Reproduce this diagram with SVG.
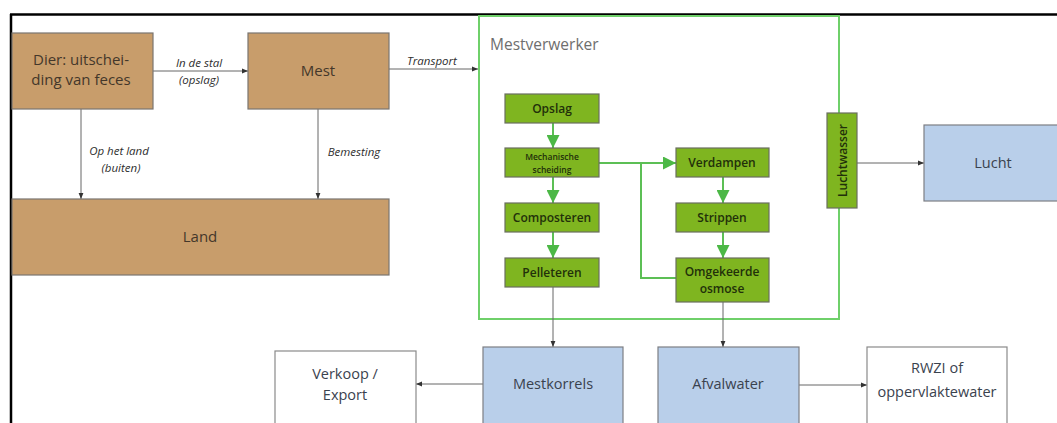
<svg xmlns="http://www.w3.org/2000/svg" width="1057" height="423" viewBox="0 0 1057 423">
<defs>
<style>
.tan{fill:#c89d6b;stroke:#7a7570;stroke-width:1.2}
.grn{fill:#7fb520;stroke:#6a6f60;stroke-width:1.2}
.blu{fill:#b9cfea;stroke:#7d7f84;stroke-width:1.2}
.wht{fill:#ffffff;stroke:#8a8a8a;stroke-width:1.2}
.t{font-family:"Open Sans","Noto Sans",sans-serif;text-anchor:middle}
.big{font-size:15px;fill:#44372a}
.lbl{font-size:11.5px;font-style:italic;fill:#2e2e2e}
.gt{font-size:12px;font-weight:600;fill:#22300a}
.bt{font-size:14.5px;fill:#3a424e}
.con{stroke:#666;stroke-width:1;fill:none}
.gcon{stroke:#5cbf55;stroke-width:2;fill:none}
</style>
<marker id="ah" viewBox="0 0 10 10" refX="10" refY="5" markerWidth="6" markerHeight="6" markerUnits="userSpaceOnUse" orient="auto">
<path d="M0,1 L10,5 L0,9 Z" fill="#333"/>
</marker>
<marker id="gah" viewBox="0 0 10 10" refX="10" refY="5" markerWidth="13" markerHeight="13" markerUnits="userSpaceOnUse" orient="auto">
<path d="M0,0 L10,5 L0,10 Z" fill="#4cb846"/>
</marker>
</defs>
<rect x="0" y="0" width="1057" height="423" fill="#ffffff"/>
<!-- frame -->
<line x1="10" y1="14.5" x2="1057" y2="14.5" stroke="#000" stroke-width="2.5"/>
<line x1="11" y1="14" x2="11" y2="423" stroke="#000" stroke-width="2.5"/>

<g id="mestverwerker">
<rect x="479" y="16" width="360" height="303" fill="none" stroke="#6fd06a" stroke-width="2"/>
<text x="490" y="50" font-family="'Open Sans','Noto Sans',sans-serif" font-size="15.5px" fill="#6e6e6e">Mestverwerker</text>
</g>

<g id="connectors">
<line class="con" x1="153" y1="71" x2="248" y2="71" marker-end="url(#ah)"/>
<line class="con" x1="389" y1="69" x2="478" y2="69" marker-end="url(#ah)"/>
<line class="con" x1="81" y1="109" x2="81" y2="199" marker-end="url(#ah)"/>
<line class="con" x1="318" y1="109" x2="318" y2="199" marker-end="url(#ah)"/>
<line class="con" x1="857" y1="163" x2="924" y2="163" marker-end="url(#ah)"/>
<line class="con" x1="553" y1="287" x2="553" y2="347" marker-end="url(#ah)"/>
<line class="con" x1="723" y1="302" x2="723" y2="347" marker-end="url(#ah)"/>
<line class="con" x1="483" y1="384" x2="416" y2="384" marker-end="url(#ah)"/>
<line class="con" x1="799" y1="385" x2="867" y2="385" marker-end="url(#ah)"/>
<line class="gcon" x1="553" y1="123" x2="553" y2="148" marker-end="url(#gah)"/>
<line class="gcon" x1="553" y1="177" x2="553" y2="203" marker-end="url(#gah)"/>
<line class="gcon" x1="553" y1="232" x2="553" y2="258" marker-end="url(#gah)"/>
<line class="gcon" x1="599" y1="163" x2="676" y2="163" marker-end="url(#gah)"/>
<polyline class="gcon" points="641,163 641,278 676,278"/>
<line class="gcon" x1="723" y1="177" x2="723" y2="203" marker-end="url(#gah)"/>
<line class="gcon" x1="723" y1="232" x2="723" y2="258" marker-end="url(#gah)"/>
<g class="t lbl">
<text x="199" y="67">In de stal</text>
<text x="199" y="84">(opslag)</text>
<text x="432" y="65">Transport</text>
<text x="119" y="155">Op het land</text>
<text x="121" y="172">(buiten)</text>
<text x="354" y="156">Bemesting</text>
</g>
</g>

<g id="dier">
<rect class="tan" x="12" y="33" width="141" height="76"/>
<text class="t big" x="81" y="65">Dier: uitschei-</text>
<text class="t big" x="81" y="85">ding van feces</text>
</g>
<g id="mest">
<rect class="tan" x="248" y="33" width="141" height="76"/>
<text class="t big" x="318" y="76">Mest</text>
</g>
<g id="land">
<rect class="tan" x="12" y="199" width="377" height="76"/>
<text class="t big" x="200" y="242">Land</text>
</g>

<g id="opslag">
<rect class="grn" x="505" y="94" width="94" height="29"/>
<text class="t gt" x="552" y="113">Opslag</text>
</g>
<g id="mechanische-scheiding">
<rect class="grn" x="505" y="148" width="94" height="29"/>
<text class="t gt" x="552" y="160" style="font-size:8.5px">Mechanische</text>
<text class="t gt" x="552" y="173" style="font-size:8.5px">scheiding</text>
</g>
<g id="composteren">
<rect class="grn" x="505" y="203" width="94" height="29"/>
<text class="t gt" x="552" y="222">Composteren</text>
</g>
<g id="pelleteren">
<rect class="grn" x="505" y="258" width="94" height="29"/>
<text class="t gt" x="552" y="277">Pelleteren</text>
</g>
<g id="verdampen">
<rect class="grn" x="676" y="148" width="93" height="29"/>
<text class="t gt" x="722" y="167">Verdampen</text>
</g>
<g id="strippen">
<rect class="grn" x="676" y="203" width="93" height="29"/>
<text class="t gt" x="722" y="222">Strippen</text>
</g>
<g id="omgekeerde-osmose">
<rect class="grn" x="676" y="258" width="93" height="44"/>
<text class="t gt" x="722" y="276">Omgekeerde</text>
<text class="t gt" x="722" y="293">osmose</text>
</g>
<g id="luchtwasser">
<rect class="grn" x="827" y="113" width="30" height="95"/>
<text class="t gt" x="0" y="0" transform="translate(846.5,160.5) rotate(-90)">Luchtwasser</text>
</g>

<g id="lucht">
<rect class="blu" x="924" y="125" width="140" height="76"/>
<text class="t bt" x="993" y="168">Lucht</text>
</g>
<g id="verkoop-export">
<rect class="wht" x="275" y="351" width="141" height="80"/>
<text class="t bt" x="345" y="379">Verkoop /</text>
<text class="t bt" x="345" y="400">Export</text>
</g>
<g id="mestkorrels">
<rect class="blu" x="483" y="347" width="140" height="84"/>
<text class="t bt" x="553" y="389">Mestkorrels</text>
</g>
<g id="afvalwater">
<rect class="blu" x="658" y="347" width="141" height="84"/>
<text class="t bt" x="728" y="389">Afvalwater</text>
</g>
<g id="rwzi">
<rect class="wht" x="867" y="347" width="140" height="84"/>
<text class="t bt" x="937" y="373">RWZI of</text>
<text class="t bt" x="937" y="397">oppervlaktewater</text>
</g>
</svg>
